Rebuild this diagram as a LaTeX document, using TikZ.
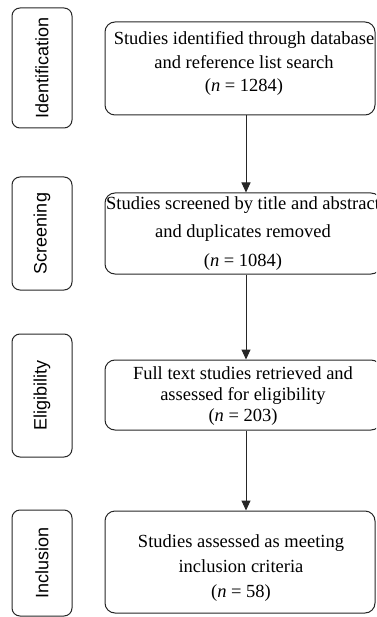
\documentclass[tikz,border=0pt]{standalone}
\usepackage{fontspec}
\setmainfont{Liberation Serif}
\setsansfont{Liberation Sans}
\usetikzlibrary{arrows.meta}
\begin{document}
\begin{tikzpicture}[x=1pt,y=-1pt,
  stage/.style={draw=black!85, line width=1pt, rounded corners=8pt, inner sep=0pt},
  box/.style={draw=black!85, line width=1pt, rounded corners=10pt, inner sep=0pt},
  lab/.style={font=\sffamily\fontsize{18}{18}\selectfont, rotate=90, inner sep=0pt},
  txt/.style={align=center, inner sep=0pt},
  arr/.style={-{Triangle[length=10pt,width=9pt]}, line width=1pt, draw=black!85}]
\useasboundingbox (0,0) rectangle (376,617);
\clip (0,0) rectangle (376,617);
% stage boxes
\node[stage, minimum width=60, minimum height=120] (s1) at (42,68) {};
\node[stage, minimum width=60, minimum height=113] (s2) at (42,233.5) {};
\node[stage, minimum width=60, minimum height=123] (s3) at (42,395.5) {};
\node[stage, minimum width=60, minimum height=106] (s4) at (42,563) {};
\node[lab] (l1) at (s1) {Identification};
\node[lab] (l2) at (s2) {Screening};
\node[lab] (l3) at (s3) {Eligibility};
\node[lab] (l4) at (s4) {Inclusion};
% main boxes
\node[box, minimum width=270, minimum height=93] (b1) at (240,68.5) {};
\node[box, minimum width=276, minimum height=81] (b2) at (243,233.5) {};
\node[box, minimum width=276, minimum height=70] (b3) at (243,395) {};
\node[box, minimum width=270, minimum height=102] (b4) at (240,562) {};
\node[txt, font=\fontsize{18.5}{23.5}\selectfont] (t1) at (244,63.5)
  {Studies identified through database\\and reference list search\\(\textit{n} = 1284)};
\node[txt, font=\fontsize{18.5}{28.5}\selectfont] (t2) at (243,233.5)
  {Studies screened by title and abstract\\and duplicates removed\\(\textit{n} = 1084)};
\node[txt, font=\fontsize{18.5}{21}\selectfont] (t3) at (243,396)
  {Full text studies retrieved and\\assessed for eligibility\\(\textit{n} = 203)};
\node[txt, font=\fontsize{18.5}{25}\selectfont] (t4) at (241,568)
  {Studies assessed as meeting\\inclusion criteria\\(\textit{n} = 58)};
% arrows
\coordinate (ax) at (246,0);
\draw[arr] (b1.south -| ax) -- (b2.north -| ax);
\draw[arr] (b2.south -| ax) -- (b3.north -| ax);
\draw[arr] (b3.south -| ax) -- (b4.north -| ax);
\end{tikzpicture}
\end{document}
